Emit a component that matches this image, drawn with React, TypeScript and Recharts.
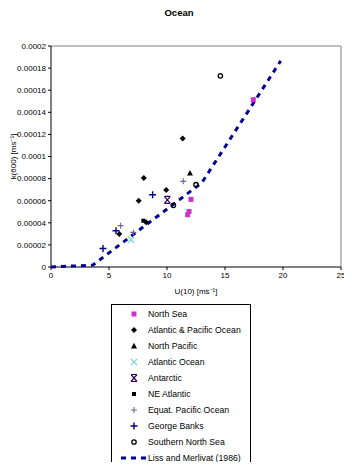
import React from 'react'
import { Legend, ReferenceLine, Scatter, ScatterChart, XAxis, YAxis } from 'recharts'

type Pt = { x: number; y: number }

// wind speed U(10) [m/s] vs k(600) [m/s]
const northSea: Pt[] = [
  { x: 17.44, y: 0.0001514 },
  { x: 12.07, y: 0.0000612 },
  { x: 11.9, y: 0.0000503 },
  { x: 11.78, y: 0.0000473 },
]
const atlanticPacific: Pt[] = [
  { x: 8.0, y: 0.0000805 },
  { x: 9.93, y: 0.0000697 },
  { x: 7.56, y: 0.00006 },
  { x: 8.2, y: 0.0000404 },
  { x: 5.89, y: 0.0000299 },
  { x: 11.35, y: 0.0001164 },
]
const northPacific: Pt[] = [{ x: 11.98, y: 0.000085 }]
const atlanticOcean: Pt[] = [{ x: 6.9, y: 0.0000247 }]
const antarctic: Pt[] = [{ x: 10.03, y: 0.0000608 }]
const neAtlantic: Pt[] = [{ x: 7.96, y: 0.0000419 }]
const equatPacific: Pt[] = [
  { x: 6.0, y: 0.0000374 },
  { x: 7.1, y: 0.0000313 },
  { x: 11.4, y: 0.0000775 },
]
const georgeBanks: Pt[] = [
  { x: 4.48, y: 0.0000168 },
  { x: 5.6, y: 0.0000328 },
  { x: 8.76, y: 0.0000654 },
]
const southernNorthSea: Pt[] = [
  { x: 14.6, y: 0.000173 },
  { x: 12.5, y: 0.0000745 },
  { x: 10.55, y: 0.0000558 },
]
const lissMerlivat: Pt[] = [
  { x: 0, y: 0 },
  { x: 3.6, y: 0.0000017 },
  { x: 13, y: 0.0000762 },
  { x: 19.8, y: 0.0001865 },
]

const xTicks = [0, 5, 10, 15, 20, 25]
const yTicks = [0, 0.00002, 0.00004, 0.00006, 0.00008, 0.0001, 0.00012, 0.00014, 0.00016, 0.00018, 0.0002]

const FONT = '"Liberation Sans", Arial, sans-serif'
const LINE_BLUE = '#000099'

type MarkKind = 'square' | 'diamond' | 'triangle' | 'x' | 'star' | 'smallsquare' | 'plus' | 'bigplus' | 'circle'

function Mark({ kind, cx, cy, color }: { kind: MarkKind; cx: number; cy: number; color: string }) {
  switch (kind) {
    case 'square':
      return <rect x={cx - 2.5} y={cy - 2.5} width={5} height={5} fill={color} />
    case 'smallsquare':
      return <rect x={cx - 2} y={cy - 2} width={4} height={4} fill={color} />
    case 'diamond':
      return <path d={`M${cx},${cy - 3} L${cx + 3},${cy} L${cx},${cy + 3} L${cx - 3},${cy} Z`} fill={color} />
    case 'triangle':
      return <path d={`M${cx},${cy - 3.2} L${cx + 3},${cy + 2.4} L${cx - 3},${cy + 2.4} Z`} fill={color} />
    case 'x':
      return (
        <path
          d={`M${cx - 3},${cy - 3} L${cx + 3},${cy + 3} M${cx + 3},${cy - 3} L${cx - 3},${cy + 3}`}
          stroke={color}
          strokeWidth={1.3}
        />
      )
    case 'star':
      return (
        <path
          d={`M${cx - 3},${cy - 3.5} L${cx + 3},${cy + 3.5} M${cx + 3},${cy - 3.5} L${cx - 3},${cy + 3.5} M${cx - 3},${cy - 3.5} L${cx + 3},${cy - 3.5} M${cx - 3},${cy + 3.5} L${cx + 3},${cy + 3.5}`}
          stroke={color}
          strokeWidth={1.2}
        />
      )
    case 'plus':
      return (
        <path d={`M${cx - 3},${cy} L${cx + 3},${cy} M${cx},${cy - 3} L${cx},${cy + 3}`} stroke={color} strokeWidth={1.1} />
      )
    case 'bigplus':
      return (
        <path d={`M${cx - 3.5},${cy} L${cx + 3.5},${cy} M${cx},${cy - 3.5} L${cx},${cy + 3.5}`} stroke={color} strokeWidth={1.4} />
      )
    case 'circle':
      return <circle cx={cx} cy={cy} r={2.2} fill="none" stroke={color} strokeWidth={1.3} />
  }
  return null
}

type SeriesDef = { name: string; data: Pt[]; kind: MarkKind; color: string }

const series: SeriesDef[] = [
  { name: 'North Sea', data: northSea, kind: 'square', color: '#cc33cc' },
  { name: 'Atlantic & Pacific Ocean', data: atlanticPacific, kind: 'diamond', color: '#000000' },
  { name: 'North Pacific', data: northPacific, kind: 'triangle', color: '#000000' },
  { name: 'Atlantic Ocean', data: atlanticOcean, kind: 'x', color: '#80d8dc' },
  { name: 'Antarctic', data: antarctic, kind: 'star', color: '#330066' },
  { name: 'NE Atlantic', data: neAtlantic, kind: 'smallsquare', color: '#000000' },
  { name: 'Equat. Pacific Ocean', data: equatPacific, kind: 'plus', color: '#6a6a9a' },
  { name: 'George Banks', data: georgeBanks, kind: 'bigplus', color: '#000080' },
  { name: 'Southern North Sea', data: southernNorthSea, kind: 'circle', color: '#000000' },
]

function LegendBox() {
  return (
    <div
      style={{
        border: '1px solid #000',
        boxSizing: 'border-box',
        width: 140,
        height: 162,
        background: '#fff',
        fontFamily: FONT,
        fontSize: 8.7,
        color: '#000',
        paddingTop: 1,
      }}
    >
      {series.map((s) => (
        <div key={s.name} style={{ height: 16, display: 'flex', alignItems: 'center' }}>
          <svg width={36} height={16}>
            <Mark kind={s.kind} cx={22} cy={8} color={s.color} />
          </svg>
          <span>{s.name}</span>
        </div>
      ))}
      <div style={{ height: 16, display: 'flex', alignItems: 'center' }}>
        <svg width={36} height={16}>
          <line x1={9} y1={8} x2={35} y2={8} stroke={LINE_BLUE} strokeWidth={3} strokeDasharray="5 5" />
        </svg>
        <span>Liss and Merlivat (1986)</span>
      </div>
    </div>
  )
}

export default function App() {
  return (
    <div style={{ position: 'relative', width: 352, height: 470, margin: -8, background: '#fff' }}>
      <ScatterChart width={352} height={470} margin={{ top: 46, right: 11, left: 0, bottom: 173 }}>
        <XAxis
          type="number"
          dataKey="x"
          domain={[0, 25]}
          ticks={xTicks}
          interval={0}
          height={30}
          axisLine={{ stroke: '#000' }}
          tickLine={{ stroke: '#000' }}
          tickSize={3}
          tick={{ fontSize: 8, fill: '#000', fontFamily: FONT }}
          label={{ value: 'U(10) [ms⁻¹]', position: 'insideBottom', offset: 3, style: { fontSize: 8, fill: '#000', fontFamily: FONT } }}
        />
        <YAxis
          type="number"
          dataKey="y"
          domain={[0, 0.0002]}
          ticks={yTicks}
          interval={0}
          width={51}
          axisLine={{ stroke: '#000' }}
          tickLine={{ stroke: '#000' }}
          tickSize={3}
          tick={{ fontSize: 8, fill: '#000', fontFamily: FONT }}
          tickFormatter={(v: number) => String(v)}
          label={{
            value: 'k(600) [ms⁻¹]',
            angle: -90,
            position: 'insideLeft',
            offset: 13,
            style: { fontSize: 8, fill: '#000', fontFamily: FONT, textAnchor: 'middle' },
          }}
        />
        <ReferenceLine y={0.0002} stroke="#808080" />
        <ReferenceLine x={25} stroke="#808080" />
        <Scatter
          name="Liss and Merlivat (1986)"
          data={lissMerlivat}
          isAnimationActive={false}
          line={{ stroke: LINE_BLUE, strokeWidth: 3, strokeDasharray: '5 5' }}
          shape={() => <g />}
        />
        {series.map((s) => (
          <Scatter
            key={s.name}
            name={s.name}
            data={s.data}
            isAnimationActive={false}
            shape={(p: any) => <Mark kind={s.kind} cx={p.cx} cy={p.cy} color={s.color} />}
          />
        ))}
        <Legend
          layout="horizontal"
          align="center"
          verticalAlign="middle"
          wrapperStyle={{ left: 111, top: 304, width: 140, height: 162 }}
          content={() => <LegendBox />}
        />
      </ScatterChart>
      <div
        style={{
          position: 'absolute',
          left: 0,
          width: 358,
          top: 7,
          zIndex: 2,
          textAlign: 'center',
          fontFamily: FONT,
          fontWeight: 'bold',
          fontSize: 9.5,
          lineHeight: '11px',
        }}
      >
        Ocean
      </div>
    </div>
  )
}
